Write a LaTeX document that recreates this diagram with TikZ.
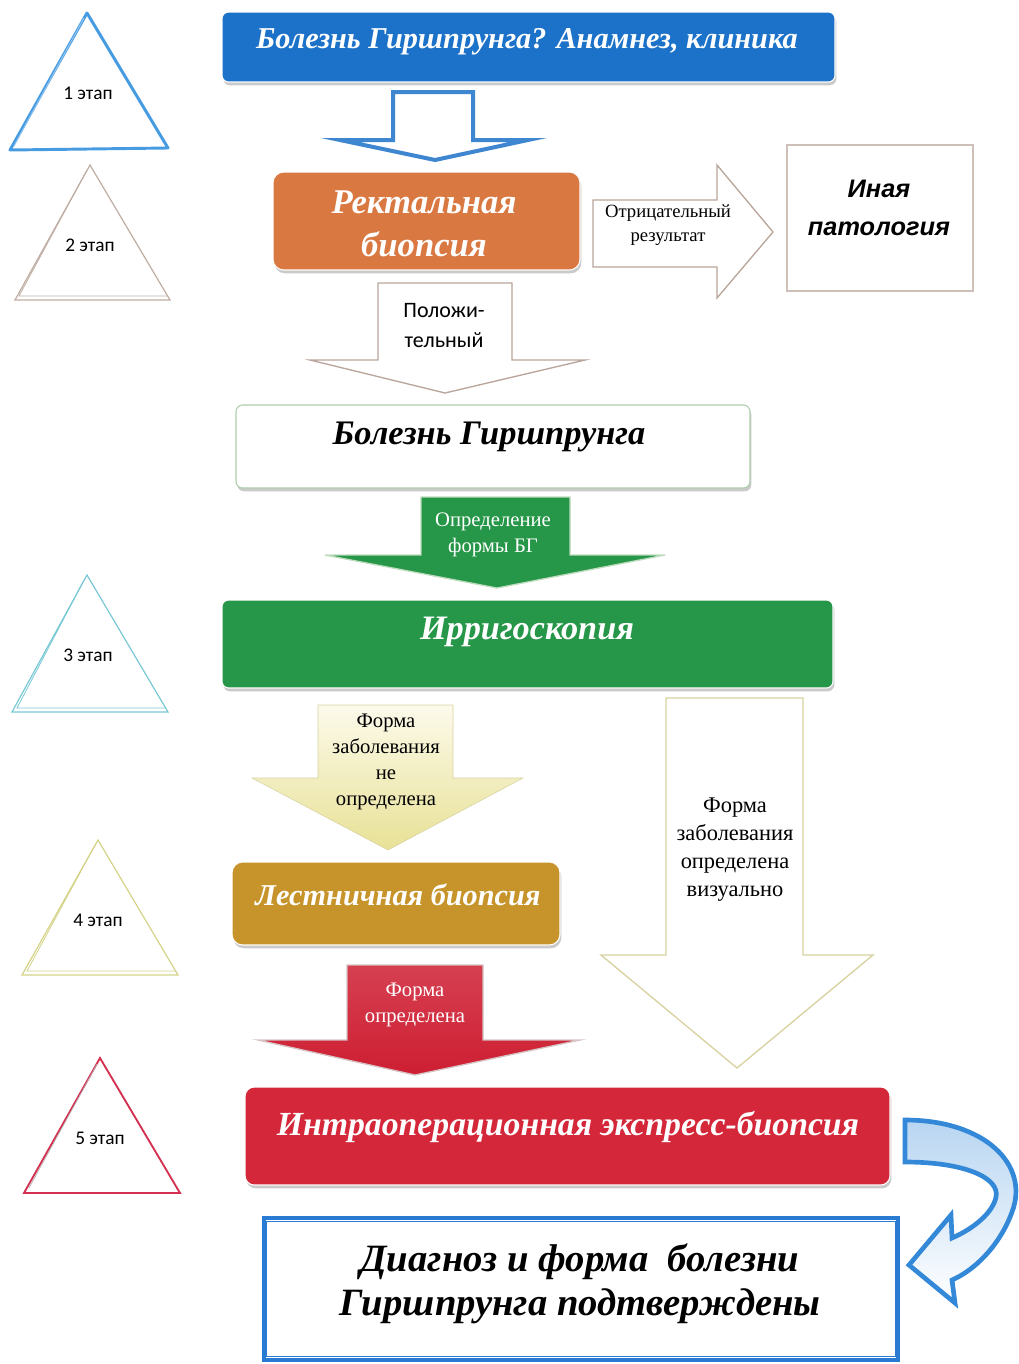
\documentclass[tikz,border=0pt]{standalone}
\usepackage{fontspec}
\setmainfont{Liberation Serif}
\newfontfamily\sansf{Liberation Sans}
\newfontfamily\calib{Carlito}
\usetikzlibrary{shadows}
\definecolor{cBlue}{RGB}{28,114,200}
\definecolor{cOrange}{RGB}{218,120,66}
\definecolor{cGreen}{RGB}{38,150,72}
\definecolor{cBrown}{RGB}{198,148,42}
\definecolor{cRed}{RGB}{212,40,58}
\definecolor{cArrRed}{RGB}{206,30,50}
\definecolor{cFrame}{RGB}{40,122,210}
\definecolor{cCurve}{RGB}{52,136,216}
\definecolor{cGray}{RGB}{185,165,155}
\definecolor{cPale}{RGB}{215,210,160}
\definecolor{cTri1}{RGB}{70,155,225}
\definecolor{cTri2}{RGB}{190,172,162}
\definecolor{cTri3}{RGB}{120,200,212}
\definecolor{cTri4}{RGB}{212,210,135}
\definecolor{cTri5}{RGB}{212,48,80}
\tikzset{
  boxshadow/.style={drop shadow={shadow xshift=1pt, shadow yshift=-2.5pt, opacity=0.35, fill=black!60}},
  colbox/.style={boxshadow, draw=white, line width=0.8pt, inner sep=0pt},
  whitebox/.style={draw=#1, fill=white, line width=0.8pt, inner sep=0pt},
  bigtxt/.style={font=\fontsize{#1}{#1}\selectfont\bfseries\itshape, align=center},
  stagetxt/.style={font=\calib\fontsize{14.5}{16}\selectfont},
  outlinearrow/.style={draw=#1, fill=white, line width=1pt, line join=miter},
}
\begin{document}
\begin{tikzpicture}[x=0.75pt, y=-0.75pt]
\useasboundingbox (0,0) rectangle (1019,1364);

% ---- stage triangles ----
\draw[cTri1, line width=2.2pt, line join=round] (87,13) -- (168,148) -- (10,150) -- cycle;
\draw[cTri1!60, line width=0.8pt] (84,18) -- (14,146);
\node[stagetxt] (s1) at (88,93) {1 этап};
\draw[cTri2, line width=0.9pt] (90,165) -- (170,300) -- (15,300) -- cycle;
\draw[cTri2, line width=0.6pt] (87,170) -- (19,296) -- (168,296);
\node[stagetxt] (s2) at (90,245) {2 этап};
\draw[cTri3, line width=0.9pt] (87,575) -- (168,712) -- (12,712) -- cycle;
\draw[cTri3, line width=0.6pt] (84,580) -- (17,708) -- (165,708);
\node[stagetxt] (s3) at (88,655) {3 этап};
\draw[cTri4, line width=0.9pt] (98,840) -- (178,975) -- (22,975) -- cycle;
\draw[cTri4, line width=0.6pt] (95,845) -- (27,971) -- (175,971);
\node[stagetxt] (s4) at (98,920) {4 этап};
\draw[cTri5, line width=1.4pt] (100,1058) -- (180,1193) -- (24,1193) -- cycle;
\draw[gray!60, line width=0.5pt] (97,1064) -- (29,1188);
\node[stagetxt] (s5) at (100,1138) {5 этап};

% ---- boxes ----
\node[colbox, fill=cBlue, rounded corners=5pt, minimum width=459.75pt, minimum height=52.5pt] (b1) at (528.5,47) {};
\node[bigtxt=22.7, text=white] (t1) at (527,42) {Болезнь Гиршпрунга? Анамнез, клиника};

\node[colbox, fill=cOrange, rounded corners=8pt, minimum width=230.25pt, minimum height=73.5pt] (b2) at (426.5,221) {};
\node[font=\fontsize{26}{32}\selectfont\bfseries\itshape, align=center, text=white] (t2) at (424,224) {Ректальная\\биопсия};

\node[whitebox=cGray!70, minimum width=139.5pt, minimum height=109.5pt] (b3) at (880,218) {};
\node[font=\sansf\fontsize{19}{29}\selectfont\bfseries\itshape, align=center] (t3) at (879,208) {Иная\\патология};

\node[whitebox=green!25!gray!50, rounded corners=5pt, boxshadow, minimum width=385.5pt, minimum height=62.25pt] (b4) at (493,446.5) {};
\node[bigtxt=25.8] (t4) at (489,437) {Болезнь Гиршпрунга};

\node[colbox, fill=cGreen, rounded corners=5pt, minimum width=458.25pt, minimum height=66pt] (b5) at (527.5,644) {};
\node[bigtxt=25.7, text=white] (t5) at (527,632) {Ирригоскопия};

\node[colbox, fill=cBrown, rounded corners=8pt, minimum width=246pt, minimum height=62.25pt] (b6) at (396,903.5) {};
\node[bigtxt=22.7, text=white] (t6) at (398,895) {Лестничная биопсия};

\node[colbox, fill=cRed, rounded corners=7pt, minimum width=483.75pt, minimum height=73.5pt] (b7) at (567.5,1136) {};
\node[bigtxt=25.3, text=white] (t7) at (568,1127) {Интраоперационная экспресс-биопсия};

\node[draw=cFrame, line width=3pt, fill=white, inner sep=0pt, minimum width=476pt, minimum height=106pt] (b8) at (581,1289) {};
\draw[cFrame, line width=0.8pt] ([shift={(5,5)}]b8.north west) rectangle ([shift={(-5,-5)}]b8.south east);
\node[font=\fontsize{29}{33}\selectfont\bfseries\itshape, align=center] (t8) at (580,1284) {Диагноз и форма\ \ болезни\\Гиршпрунга подтверждены};

% ---- block arrows ----
\draw[outlinearrow=cBlue!85, line width=3pt] (393,92) -- (473,92) -- (473,140) -- (528,140) -- (435,160) -- (340,140) -- (393,140) -- cycle;

\draw[outlinearrow=cGray] (593,200) -- (717,200) -- (717,165) -- (773,232) -- (717,298) -- (717,267) -- (593,267) -- cycle;
\node[font=\fontsize{14}{18}\selectfont, align=center] (t9) at (668,225) {Отрицательный\\результат};

\draw[outlinearrow=cGray] (378,283) -- (512,283) -- (512,360) -- (585,360) -- (445,393) -- (310,360) -- (378,360) -- cycle;
\node[font=\calib\fontsize{16.5}{22.5}\selectfont, align=center] (t10) at (444,326) {Положи-\\тельный};

\draw[draw=green!30!gray!40, fill=cGreen, line width=1pt] (421,497) -- (570,497) -- (570,555) -- (665,555) -- (497,588) -- (325,555) -- (421,555) -- cycle;
\node[font=\fontsize{15.5}{19}\selectfont, align=center, text=white] (t11) at (493,535) {Определение\\формы БГ};

\shade[top color={rgb,255:red,252;green,250;blue,235}, bottom color={rgb,255:red,232;green,225;blue,150}, draw=cPale] (318,705) -- (453,705) -- (453,778) -- (523,778) -- (388,850) -- (252,778) -- (318,778) -- cycle;
\node[font=\fontsize{15.5}{19.5}\selectfont, align=center] (t12) at (386,762) {Форма\\заболевания\\не\\определена};

\draw[outlinearrow=cPale] (666,698) -- (803,698) -- (803,955) -- (873,955) -- (737,1068) -- (601,955) -- (666,955) -- cycle;
\node[font=\fontsize{16.8}{21}\selectfont, align=center] (t13) at (735,850) {Форма\\заболевания\\определена\\визуально};

\shade[top color=cArrRed!85, bottom color=cArrRed, draw=red!20!gray!40, line width=1pt] (347,965) -- (483,965) -- (483,1040) -- (580,1040) -- (415,1075) -- (258,1040) -- (347,1040) -- cycle;
\node[font=\fontsize{15.5}{19}\selectfont, align=center, text=white] (t14) at (415,1005) {Форма\\определена};

% ---- curved arrow ----
\shade[top color=cCurve!35, bottom color=white, draw=cCurve, line width=3.5pt, line join=miter]
  (905,1120) .. controls (985,1120) and (1030,1165) .. (1012,1212)
  .. controls (1000,1245) and (975,1270) .. (952,1280)
  -- (955,1303) -- (909,1265) -- (951,1215) -- (952,1238)
  .. controls (975,1228) and (993,1212) .. (996,1197)
  .. controls (1000,1178) and (965,1162) .. (905,1162) -- cycle;
\end{tikzpicture}
\end{document}
